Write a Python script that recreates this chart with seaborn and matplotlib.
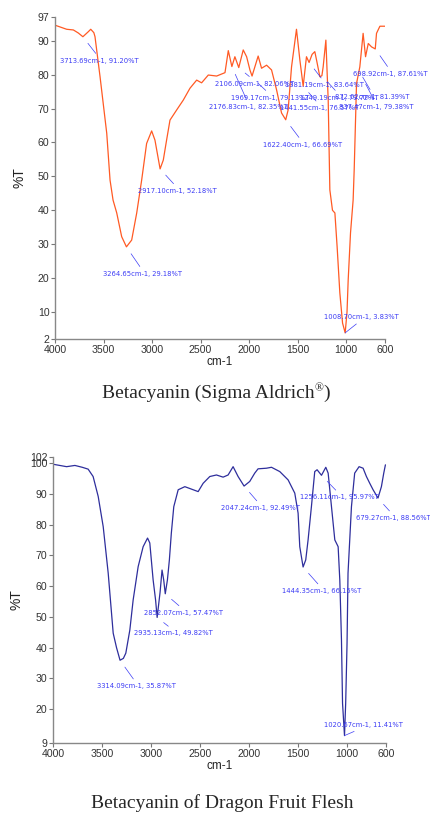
import numpy as np
import pandas as pd
import matplotlib
matplotlib.use("Agg")
import matplotlib.pyplot as plt
import seaborn as sns

# spectrum 1: Betacyanin (Sigma Aldrich)
wn_std = [4000, 3880, 3811, 3760, 3713, 3660, 3632, 3600, 3588, 3536, 3467, 3433,
          3402, 3364, 3313, 3264, 3210, 3158, 3107, 3056, 3004, 2970, 2917, 2884,
          2850, 2815, 2746, 2678, 2609, 2540, 2489, 2420, 2334, 2248, 2214, 2177,
          2146, 2106, 2060, 2025, 1991, 1969, 1906, 1871, 1819, 1768, 1716, 1665,
          1622, 1597, 1562, 1511, 1476, 1442, 1408, 1381, 1350, 1322, 1304, 1270,
          1249, 1236, 1208, 1184, 1167, 1140, 1115, 1092, 1064, 1036, 1009, 990,
          978, 954, 927, 916, 892, 858, 824, 799, 771, 737, 699, 686, 651, 617, 600]
t_std = [94.6, 93.4, 93.2, 92.3, 91.2, 92.6, 93.4, 92.4, 91.2, 79.4, 62.7, 48.9,
         43.0, 39.2, 32.2, 29.2, 31.2, 39.2, 48.9, 59.7, 63.4, 60.7, 52.2, 54.8,
         60.7, 66.6, 69.6, 72.5, 76.0, 78.4, 77.6, 79.9, 79.6, 80.6, 87.1, 82.4,
         85.3, 82.1, 87.3, 85.3, 81.4, 79.6, 85.5, 81.9, 82.8, 81.4, 75.5, 68.7,
         66.7, 69.6, 82.3, 93.4, 84.3, 76.6, 85.3, 83.6, 86.0, 86.8, 84.3, 79.4,
         79.7, 82.3, 90.2, 72.5, 46.0, 40.0, 39.2, 29.2, 15.6, 6.7, 3.8, 10.0,
         19.4, 33.3, 43.0, 52.0, 77.4, 82.3, 92.2, 85.3, 89.2, 88.2, 87.6, 92.2,
         94.3, 94.3, 94.3]

# spectrum 2: Betacyanin of Dragon Fruit Flesh
wn_df = [4000, 3860, 3775, 3700, 3640, 3589, 3537, 3486, 3435, 3384, 3350, 3314,
         3280, 3255, 3214, 3180, 3129, 3078, 3033, 3010, 2976, 2951, 2935, 2905,
         2885, 2868, 2852, 2830, 2810, 2790, 2765, 2720, 2652, 2584, 2516, 2465,
         2397, 2329, 2261, 2210, 2159, 2108, 2047, 1989, 1938, 1904, 1818, 1767,
         1682, 1597, 1529, 1495, 1478, 1444, 1417, 1393, 1359, 1325, 1301, 1256,
         1212, 1188, 1154, 1120, 1086, 1069, 1052, 1041, 1021, 1009, 995, 985,
         950, 917, 872, 831, 797, 763, 729, 679, 644, 620, 603]
t_df = [99.6, 98.8, 99.2, 98.6, 98.0, 95.6, 89.1, 79.3, 64.2, 44.7, 40.0, 35.9,
        36.5, 38.2, 45.7, 55.5, 66.3, 72.8, 75.6, 74.0, 62.0, 55.5, 49.8, 58.0,
        65.2, 62.0, 57.5, 62.0, 68.5, 77.2, 85.8, 91.3, 92.3, 91.5, 90.7, 93.4,
        95.6, 96.1, 95.4, 96.1, 98.8, 95.6, 92.5, 94.0, 96.7, 98.1, 98.3, 98.6,
        97.2, 94.5, 90.2, 83.7, 72.8, 66.2, 68.5, 75.0, 85.8, 97.2, 97.8, 96.0,
        98.6, 96.7, 85.8, 75.0, 72.8, 62.0, 42.5, 21.9, 11.4, 21.9, 41.4, 64.2,
        85.8, 96.7, 98.8, 98.3, 95.6, 93.4, 91.3, 88.6, 92.3, 96.7, 99.4]

# peak picks (wavenumber, %T)
peaks_std = [(3713.69, 91.20), (2917.10, 52.18), (3264.65, 29.18), (2106.09, 82.06),
             (1969.17, 79.13), (2176.83, 82.35), (1622.40, 66.69), (1381.19, 83.64),
             (1249.19, 79.72), (1441.55, 76.57), (872.02, 81.39), (837.47, 79.38),
             (698.92, 87.61), (1008.70, 3.83)]
peaks_df = [(2852.07, 57.47), (2935.13, 49.82), (3314.09, 35.87), (2047.24, 92.49),
            (1256.11, 95.97), (679.27, 88.56), (1444.35, 66.15), (1020.67, 11.41)]

# label offsets from the peak in pixels (dx right, dy down)
offs_std = [(-23, 24), (-22, 22), (-23, 27), (-24, 16), (-21, 20), (-23, 40),
            (-23, 25), (-24, 23), (-22, 22), (-23, 22), (-23, 27), (-23, 30),
            (-22, 25), (-21, -16)]
offs_df = [(-21, 19), (-23, 16), (-23, 26), (-23, 22), (-21, 22), (-22, 20),
           (-21, 24), (-21, -11)]

xticks = [4000, 3500, 3000, 2500, 2000, 1500, 1000, 600]
yticks_std = [2, 10, 20, 30, 40, 50, 60, 70, 80, 90, 97]
yticks_df = [9, 20, 30, 40, 50, 60, 70, 80, 90, 100, 102]

sns.set_style("ticks")
plt.rcParams["font.family"] = ["Liberation Sans", "DejaVu Sans"]

fig = plt.figure(figsize=(4.3, 8.13), dpi=100)
ax1 = fig.add_axes([0.128, 0.583, 0.767, 0.396])
ax2 = fig.add_axes([0.123, 0.0861, 0.774, 0.352])

LBL = "#3c3cf5"


def draw(ax, wn, t, color, peaks, offs, yticks, xlab_y, ylab_x):
    df = pd.DataFrame({"wn": wn, "T": t})
    sns.lineplot(data=df, x="wn", y="T", ax=ax, color=color, lw=0.9,
                 estimator=None, sort=True)
    ax.set_xlim(4000, 600)
    ax.set_ylim(yticks[0], yticks[-1])
    ax.set_xticks(xticks)
    ax.set_yticks(yticks)
    ax.tick_params(length=3, width=0.8, color="#777777", labelsize=7.6,
                   labelcolor="#333333", pad=1)
    for s in ["top", "right"]:
        ax.spines[s].set_visible(False)
    for s in ["left", "bottom"]:
        ax.spines[s].set_color("#888888")
        ax.spines[s].set_linewidth(1.0)
    ax.set_xlabel("cm-1", fontsize=8.5, color="#222222")
    ax.set_ylabel("%T", fontsize=10, color="#222222")
    ax.xaxis.set_label_coords(0.5, xlab_y)
    ax.yaxis.set_label_coords(ylab_x, 0.5)
    for (w, v), (dx, dy) in zip(peaks, offs):
        rel = (0.5, 1) if dy > 0 else (0.5, 0)
        ax.annotate(f"{w:.2f}cm-1, {v:.2f}%T", xy=(w, v),
                    xytext=(dx, -dy), textcoords="offset pixels",
                    ha="left", va="center", fontsize=4.9, color=LBL,
                    family="DejaVu Sans", annotation_clip=False,
                    arrowprops=dict(arrowstyle="-", color=LBL, lw=0.5,
                                    relpos=rel, shrinkA=1,
                                    shrinkB=6 if dy > 0 else 0))


draw(ax1, wn_std, t_std, "#ff5a24", peaks_std, offs_std, yticks_std, -0.052, -0.088)
draw(ax2, wn_df, t_df, "#2e2e9c", peaks_df, offs_df, yticks_df, -0.058, -0.087)

# captions
serif = ["Liberation Serif", "DejaVu Serif"]
c1 = fig.text(0.237, 0.5105, "Betacyanin (Sigma Aldrich", fontsize=14,
              family=serif, va="baseline", ha="left")
c2 = ax1.annotate("®", xy=(1, 0.45), xycoords=c1, va="bottom", ha="left",
                  fontsize=8.5, family=serif, annotation_clip=False)
ax1.annotate(")", xy=(1, 0), xycoords=(c2, c1), va="bottom", ha="left",
             fontsize=14, family=serif, annotation_clip=False)
fig.text(0.516, 0.006, "Betacyanin of Dragon Fruit Flesh", fontsize=14,
         family=serif, va="baseline", ha="center")

fig.savefig("out.png", dpi=100)
